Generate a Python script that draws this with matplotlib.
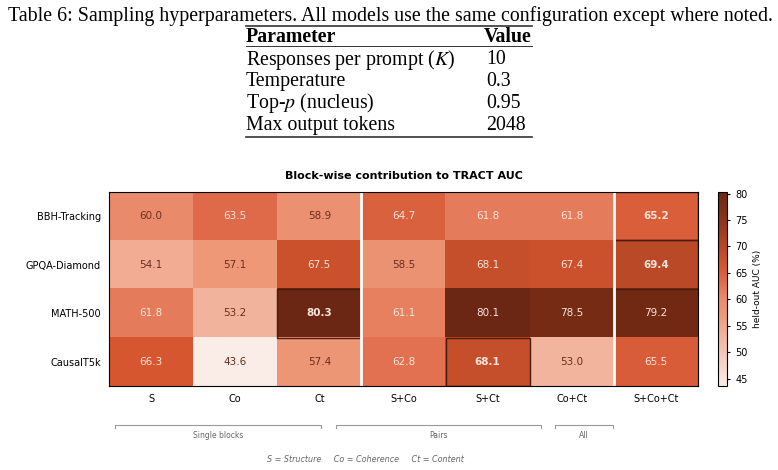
import numpy as np
import matplotlib
matplotlib.use('Agg')
import matplotlib.pyplot as plt
from matplotlib.colors import LinearSegmentedColormap
from matplotlib.patches import Rectangle

# table data
caption = 'Table 6: Sampling hyperparameters. All models use the same configuration except where noted.'
params = ['Responses per prompt ($K$)', 'Temperature', 'Top-$p$ (nucleus)', 'Max output tokens']
values = ['10', '0.3', '0.95', '2048']

# heatmap data
datasets = ['BBH-Tracking', 'GPQA-Diamond', 'MATH-500', 'CausalT5k']
combos = ['S', 'Co', 'Ct', 'S+Co', 'S+Ct', 'Co+Ct', 'S+Co+Ct']
auc = np.array([
    [60.0, 63.5, 58.9, 64.7, 61.8, 61.8, 65.2],
    [54.1, 57.1, 67.5, 58.5, 68.1, 67.4, 69.4],
    [61.8, 53.2, 80.3, 61.1, 80.1, 78.5, 79.2],
    [66.3, 43.6, 57.4, 62.8, 68.1, 53.0, 65.5],
])
groups = ['Single blocks', 'Pairs', 'All']

plt.rcParams['mathtext.fontset'] = 'stix'
fig = plt.figure(figsize=(7.78, 4.70), dpi=100)
W, H = 778, 470

def fx(px):
    return px / W

def fy(py):
    return 1 - py / H

# --- table drawn as text ---
serif = 'Liberation Serif'
fs = 14.3
fig.text(fx(390), fy(16), caption, family=serif, fontsize=fs, ha='center', va='center')
x0, x1, xv = 246, 532, 486
fig.add_artist(plt.Line2D([fx(x0), fx(x1)], [fy(26), fy(26)], color='#333', lw=1.2))
fig.add_artist(plt.Line2D([fx(x0), fx(x1)], [fy(46), fy(46)], color='#333', lw=0.7))
fig.add_artist(plt.Line2D([fx(x0), fx(x1)], [fy(137), fy(137)], color='#333', lw=1.2))
fig.text(fx(x0), fy(37), 'Parameter', family=serif, fontsize=fs, weight='bold', ha='left', va='center')
fig.text(fx(x1), fy(37), 'Value', family=serif, fontsize=fs, weight='bold', ha='right', va='center')
for i, (p, v) in enumerate(zip(params, values)):
    y = 60 + i * 21.7
    fig.text(fx(x0), fy(y), p, family=serif, fontsize=fs, ha='left', va='center')
    fig.text(fx(xv), fy(y), v, family=serif, fontsize=fs, ha='left', va='center')

# --- heatmap ---
stops = [(0.0, '#faece7'), (0.26, '#f2b39c'), (0.37, '#ee9878'), (0.45, '#e98b6a'),
         (0.54, '#e06b4a'), (0.62, '#d5562f'), (0.70, '#bb4a28'), (0.85, '#8e3519'), (1.0, '#6b2713')]
cmap = LinearSegmentedColormap.from_list('auc', stops)
ax = fig.add_axes([fx(109), fy(386), fx(698) - fx(109), fy(192) - fy(386)])
vmin, vmax = auc.min(), auc.max()
im = ax.imshow(auc, cmap=cmap, vmin=vmin, vmax=vmax, aspect='auto')

norm = (auc - vmin) / (vmax - vmin)
for r in range(auc.shape[0]):
    best = auc[r].argmax()
    for c in range(auc.shape[1]):
        col = '#f8e4dc' if norm[r, c] > 0.45 else '#6e2e1c'
        ax.text(c, r, f'{auc[r, c]:.1f}', ha='center', va='center', fontsize=7.5,
                color=col, weight='bold' if c == best else 'normal')
    ax.add_patch(Rectangle((best - 0.5, r - 0.5), 1, 1, fill=False, edgecolor='#4a1a0a', lw=1.0))

for xs in [2.5, 5.5]:
    ax.axvline(xs, color='white', lw=2)

ax.set_xticks(range(len(combos)))
ax.set_xticklabels(combos, fontsize=7)
ax.set_yticks(range(len(datasets)))
ax.set_yticklabels(datasets, fontsize=7)
ax.tick_params(length=0, pad=6)
ax.set_title('Block-wise contribution to TRACT AUC', fontsize=8, weight='bold', pad=9)

cax = fig.add_axes([fx(718), fy(386), fx(9), fy(192) - fy(386)])
cb = fig.colorbar(im, cax=cax)
cb.set_ticks([45, 50, 55, 60, 65, 70, 75, 80])
cb.ax.tick_params(labelsize=7, length=2.5)
cb.set_label('held-out AUC (%)', fontsize=6.5)

# group brackets under the x axis
spans = [(115, 321), (336, 541), (555, 613)]
for g, (a, b) in zip(groups, spans):
    fig.add_artist(plt.Line2D([fx(a), fx(a), fx(b), fx(b)], [fy(428), fy(425), fy(425), fy(428)],
                              color='#999999', lw=0.8))
    fig.text(fx((a + b) / 2), fy(435), g, fontsize=5.5, color='#666666', ha='center', va='center')

fig.text(fx(365), fy(460), 'S = Structure     Co = Coherence     Ct = Content',
         fontsize=5.8, style='italic', color='#666666', ha='center', va='center')

plt.savefig('out.png', dpi=100)
